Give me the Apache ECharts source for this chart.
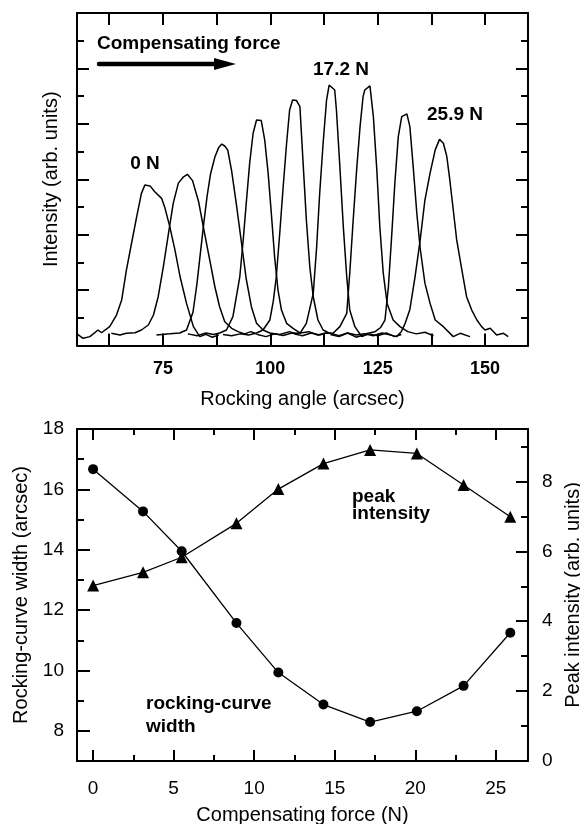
<!DOCTYPE html>
<html>
<head>
<meta charset="utf-8">
<script src="https://cdn.jsdelivr.net/npm/echarts@6.0.0/dist/echarts.min.js"></script>
<style>
  html, body { margin: 0; padding: 0; background: #fff; }
  #chart { width: 580px; height: 824px; }
</style>
</head>
<body>
<div id="chart"></div>
<script>
// top panel: rocking curves, [angle (arcsec), intensity]
const curve0 = [[55,0.42],[56.4,0.26],[58,0.32],[59.9,0.56],[60.7,0.46],[62.6,0.68],[64.2,1.1],[65.4,1.64],[66.5,2.72],[67.7,3.69],[68.9,4.65],[70.0,5.49],[70.8,5.79],[72.0,5.76],[73.1,5.55],[74.7,5.31],[75.5,4.95],[76.6,4.29],[77.8,3.45],[79.0,2.48],[80.5,1.52],[82.1,0.68],[83.6,0.32],[85,0.4],[86.5,0.3],[88,0.38]]
const curve1 = [[63.0,0.44],[65.0,0.38],[66.5,0.44],[68.5,0.46],[70.0,0.56],[71.6,0.74],[72.8,1.1],[73.9,1.76],[75.1,2.84],[76.3,4.05],[77.4,5.13],[78.6,5.86],[79.8,6.09],[80.7,6.18],[81.9,5.95],[83.3,5.2],[84.7,4.05],[85.9,3.09],[87.1,2.12],[88.2,1.4],[89.4,0.86],[91.0,0.62],[92.5,0.5],[94,0.42],[95.5,0.5],[97,0.4]]
const curve2 = [[73.5,0.38],[76.6,0.42],[78.9,0.45],[80.5,0.56],[82.0,1.2],[82.9,2.2],[83.7,3.3],[84.5,4.4],[85.3,5.4],[86.1,6.2],[87.1,6.8],[88.0,7.15],[88.7,7.27],[89.4,7.2],[90.1,7.05],[91.0,6.3],[92.1,5.1],[93.3,3.7],[94.4,2.4],[95.6,1.4],[96.8,0.8],[98.3,0.56],[99.9,0.45],[102.2,0.4],[104.5,0.5],[106,0.42]]
const curve3 = [[80.8,0.42],[83,0.35],[85,0.45],[86.8,0.4],[88.2,0.45],[89.8,0.56],[91.3,1.04],[92.9,2.48],[93.7,3.81],[94.4,5.13],[95.2,6.58],[96.0,7.66],[96.8,8.14],[97.9,8.12],[98.7,7.42],[99.5,6.22],[100.3,4.65],[101.0,3.21],[101.8,2.0],[102.6,1.28],[103.8,0.8],[105.3,0.62],[107,0.45],[109,0.5],[111,0.38],[113,0.45]]
const curve4 = [[89,0.4],[91,0.35],[93,0.42],[95,0.38],[96.8,0.45],[98.3,0.56],[99.9,0.92],[100.7,1.6],[101.4,2.48],[102.2,4.05],[103.0,5.73],[103.8,7.3],[104.5,8.5],[105.2,8.86],[106.1,8.84],[106.9,8.62],[107.6,6.7],[108.4,4.53],[109.2,2.84],[110.0,1.76],[111.1,0.92],[112.3,0.56],[113.9,0.44],[116,0.35],[118,0.45],[120,0.3],[122,0.4]]
const curve5 = [[97,0.4],[99,0.32],[101,0.42],[103,0.36],[105,0.45],[106.9,0.44],[108.4,0.8],[110.0,1.88],[110.8,3.57],[111.5,5.49],[112.3,7.3],[113.1,8.86],[113.7,9.4],[115.0,9.22],[115.4,8.5],[116.2,6.45],[117.0,4.29],[117.8,2.48],[118.5,1.28],[119.7,0.68],[121.3,0.32],[123,0.42],[125,0.35],[127,0.45],[129,0.32],[130.5,0.4]]
const curve6 = [[105.5,0.42],[107.5,0.35],[109.5,0.45],[111.5,0.38],[113,0.45],[114.6,0.44],[116.2,0.68],[117.8,1.16],[118.5,2.61],[119.3,4.53],[120.1,6.34],[120.9,7.9],[121.6,8.98],[122.0,9.22],[123.2,9.37],[124.0,8.26],[124.8,6.34],[125.5,4.29],[126.3,2.61],[127.2,1.52],[128.6,0.92],[130.2,0.68],[132,0.5],[134,0.42],[136,0.48],[138,0.35]]
const curve7 = [[114,0.4],[116,0.32],[118,0.45],[120,0.38],[122,0.42],[124.4,0.5],[125.7,0.65],[126.7,0.92],[127.5,2.12],[128.3,4.05],[129.0,5.86],[129.8,7.54],[130.6,8.26],[131.8,8.36],[132.5,7.9],[133.3,6.4],[134.1,4.8],[134.9,3.5],[136.0,2.25],[137.2,1.52],[138.4,0.92],[140.3,0.68],[142.6,0.32],[144.2,0.44],[146.5,0.32]]
const curve8 = [[122,0.42],[124,0.35],[126,0.45],[128,0.38],[129.4,0.32],[130.5,0.5],[131.4,0.8],[132.5,1.3],[133.7,2.48],[134.9,3.81],[136.0,5.25],[137.2,6.22],[138.4,7.06],[139.4,7.44],[140.3,7.3],[141.1,6.82],[141.8,5.97],[142.6,4.89],[143.4,3.81],[144.6,2.73],[145.7,1.76],[146.9,1.28],[148.1,0.92],[149.2,0.68],[150.0,0.56],[151.2,0.62],[152.7,0.38],[154.3,0.44],[155.4,0.32]]
const rockingCurves = [curve0, curve1, curve2, curve3, curve4, curve5, curve6, curve7, curve8]

// bottom panel
const forceN = [0, 3.1, 5.5, 8.9, 11.5, 14.3, 17.2, 20.1, 23.0, 25.9]
const curveWidth = [16.67, 15.27, 13.95, 11.57, 9.93, 8.87, 8.29, 8.65, 9.49, 11.25]
const peakIntensity = [5.02, 5.4, 5.83, 6.8, 7.78, 8.51, 8.9, 8.8, 7.9, 6.99]

// ticks
const angleTicks = [62.5, 75, 87.5, 100, 112.5, 125, 137.5, 150]
const angleLabels = [75, 100, 125, 150]
const forceMajor = [0, 5, 10, 15, 20, 25]
const forceMinor = [2.5, 7.5, 12.5, 17.5, 22.5]
const widthMajor = [8, 10, 12, 14, 16, 18]
const widthMinor = [9, 11, 13, 15, 17]
const peakMajor = [0, 2, 4, 6, 8]
const peakMinor = [1, 3, 5, 7, 9]

const FONT = 'Liberation Sans'
const black = '#000'
const lineW = { color: black, width: 2 }

// one axis with ticks only at given values
function tickAxis(gridIndex, position, min, max, ticks, len, extra) {
  return Object.assign({
    type: 'value', gridIndex: gridIndex, position: position, min: min, max: max,
    axisLine: { show: false, onZero: false, lineStyle: lineW },
    axisTick: { show: true, inside: true, length: len, customValues: ticks, lineStyle: lineW },
    axisLabel: { show: false },
    splitLine: { show: false }
  }, extra || {})
}
const shownLine = { show: true, onZero: false, lineStyle: lineW }

const chart = echarts.init(document.getElementById('chart'))

const topSeries = rockingCurves.map(function (c) {
  return {
    type: 'line', xAxisIndex: 0, yAxisIndex: 0, data: c,
    showSymbol: false, symbol: 'none',
    lineStyle: { color: black, width: 1.5 }
  }
})

const option = {
  backgroundColor: '#fff',
  animation: false,
  textStyle: { fontFamily: FONT, color: black },
  grid: [
    { left: 77, top: 13, width: 451, height: 332.5, outerBoundsMode: 'none', containLabel: false },
    { left: 77, top: 429, width: 451, height: 332, outerBoundsMode: 'none', containLabel: false }
  ],
  xAxis: [
    tickAxis(0, 'bottom', 55, 160, angleTicks, 12, {
      axisLine: shownLine,
      axisLabel: { show: true, customValues: angleLabels, fontSize: 18, fontWeight: 'bold', color: black, margin: 15, fontFamily: FONT },
      name: 'Rocking angle (arcsec)', nameLocation: 'middle', nameGap: 44,
      nameTextStyle: { fontSize: 20, color: black, fontFamily: FONT }
    }),
    tickAxis(0, 'top', 55, 160, angleTicks, 12, { axisLine: shownLine }),
    tickAxis(1, 'bottom', -1, 27, forceMajor, 11, {
      axisLine: shownLine,
      axisLabel: { show: true, customValues: forceMajor, fontSize: 19, color: black, margin: 18, fontFamily: FONT },
      name: 'Compensating force (N)', nameLocation: 'middle', nameGap: 44,
      nameTextStyle: { fontSize: 20, color: black, fontFamily: FONT }
    }),
    tickAxis(1, 'bottom', -1, 27, forceMinor, 6),
    tickAxis(1, 'top', -1, 27, forceMajor, 11, { axisLine: shownLine }),
    tickAxis(1, 'top', -1, 27, forceMinor, 6)
  ],
  yAxis: [
    {
      type: 'value', gridIndex: 0, position: 'left', min: 0, max: 12, interval: 2,
      axisLine: shownLine,
      axisTick: { show: true, inside: true, length: 12, lineStyle: lineW },
      minorTick: { show: true, splitNumber: 2, length: 7, lineStyle: lineW },
      axisLabel: { show: false }, splitLine: { show: false },
      name: 'Intensity (arb. units)', nameLocation: 'middle', nameGap: 16, nameRotate: 90,
      nameTextStyle: { fontSize: 20, color: black, fontFamily: FONT }
    },
    {
      type: 'value', gridIndex: 0, position: 'right', min: 0, max: 12, interval: 2,
      axisLine: shownLine,
      axisTick: { show: true, inside: true, length: 12, lineStyle: lineW },
      minorTick: { show: true, splitNumber: 2, length: 7, lineStyle: lineW },
      axisLabel: { show: false }, splitLine: { show: false }
    },
    tickAxis(1, 'left', 7, 18, widthMajor, 13, {
      axisLine: shownLine,
      axisLabel: { show: true, customValues: widthMajor, fontSize: 19, color: black, margin: 13, fontFamily: FONT },
      name: 'Rocking-curve width (arcsec)', nameLocation: 'middle', nameGap: 45, nameRotate: 90,
      nameTextStyle: { fontSize: 20, color: black, fontFamily: FONT }
    }),
    tickAxis(1, 'left', 7, 18, widthMinor, 7),
    tickAxis(1, 'right', 0, 9.5, peakMajor, 12, {
      axisLine: shownLine,
      axisLabel: { show: true, customValues: peakMajor, fontSize: 19, color: black, margin: 14, fontFamily: FONT },
      name: 'Peak intensity (arb. units)', nameLocation: 'middle', nameGap: 33, nameRotate: 90,
      nameTextStyle: { fontSize: 20, color: black, fontFamily: FONT }
    }),
    tickAxis(1, 'right', 0, 9.5, peakMinor, 7)
  ],
  series: topSeries.concat([
    {
      type: 'line', xAxisIndex: 2, yAxisIndex: 2,
      data: forceN.map(function (f, i) { return [f, curveWidth[i]] }),
      symbol: 'circle', symbolSize: 10,
      itemStyle: { color: black }, lineStyle: { color: black, width: 1.3 }
    },
    {
      type: 'line', xAxisIndex: 2, yAxisIndex: 4,
      data: forceN.map(function (f, i) { return [f, peakIntensity[i]] }),
      symbol: 'triangle', symbolSize: 12,
      itemStyle: { color: black }, lineStyle: { color: black, width: 1.3 }
    }
  ]),
  graphic: [
    { type: 'text', style: { text: 'Compensating force', x: 97, y: 44, font: 'bold 19px Liberation Sans', fill: black, textVerticalAlign: 'middle' } },
    { type: 'line', shape: { x1: 99, y1: 64, x2: 218, y2: 64 }, style: { stroke: black, lineWidth: 4.5, lineCap: 'round' } },
    { type: 'polygon', shape: { points: [[214, 58], [236, 64], [214, 70]] }, style: { fill: black } },
    { type: 'text', style: { text: '0 N', x: 145, y: 164, font: 'bold 19px Liberation Sans', fill: black, textAlign: 'center', textVerticalAlign: 'middle' } },
    { type: 'text', style: { text: '17.2 N', x: 341, y: 70, font: 'bold 19px Liberation Sans', fill: black, textAlign: 'center', textVerticalAlign: 'middle' } },
    { type: 'text', style: { text: '25.9 N', x: 455, y: 115, font: 'bold 19px Liberation Sans', fill: black, textAlign: 'center', textVerticalAlign: 'middle' } },
    { type: 'text', style: { text: 'peak\nintensity', x: 352, y: 488, font: 'bold 19px Liberation Sans', lineHeight: 17, fill: black } },
    { type: 'text', style: { text: 'rocking-curve\nwidth', x: 146, y: 692, font: 'bold 19px Liberation Sans', lineHeight: 23, fill: black } }
  ]
}

chart.setOption(option)
</script>
</body>
</html>
